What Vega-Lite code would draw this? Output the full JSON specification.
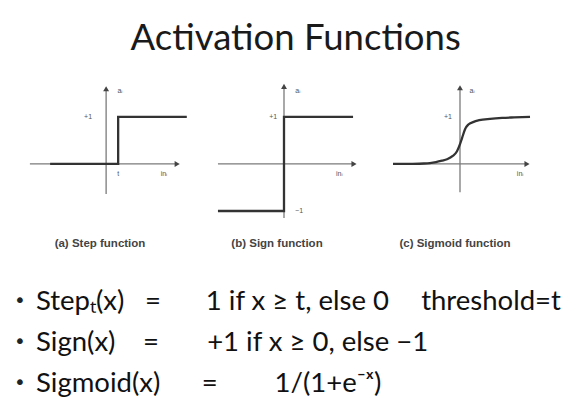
{
  "$schema": "https://vega.github.io/schema/vega-lite/v6.json",
  "background": "white",
  "padding": {"left": 14, "top": 21, "right": 5, "bottom": 0},
  "title": {
    "text": "Activation Functions",
    "font": "Lato",
    "fontSize": 36.5,
    "fontWeight": "normal",
    "color": "#1a1a1a",
    "anchor": "middle",
    "dx": 8,
    "offset": 26
  },
  "datasets": {
    "curves": [
      {"panel": "step", "i": 1, "x": -4.65, "y": 0},
      {"panel": "step", "i": 2, "x": 1, "y": 0},
      {"panel": "step", "i": 3, "x": 1, "y": 1},
      {"panel": "step", "i": 4, "x": 6.7, "y": 1},
      {"panel": "sign", "i": 1, "x": -5.49, "y": -1},
      {"panel": "sign", "i": 2, "x": 0, "y": -1},
      {"panel": "sign", "i": 3, "x": 0, "y": 1},
      {"panel": "sign", "i": 4, "x": 5.74, "y": 1},
      {"panel": "sigmoid", "i": 1, "x": -5.57, "y": 0.0},
      {"panel": "sigmoid", "i": 2, "x": -4, "y": 0.003},
      {"panel": "sigmoid", "i": 3, "x": -3, "y": 0.01},
      {"panel": "sigmoid", "i": 4, "x": -2.5, "y": 0.02},
      {"panel": "sigmoid", "i": 5, "x": -2, "y": 0.04},
      {"panel": "sigmoid", "i": 6, "x": -1.5, "y": 0.07},
      {"panel": "sigmoid", "i": 7, "x": -1.08, "y": 0.1},
      {"panel": "sigmoid", "i": 8, "x": -0.6, "y": 0.17},
      {"panel": "sigmoid", "i": 9, "x": -0.25, "y": 0.27},
      {"panel": "sigmoid", "i": 10, "x": 0, "y": 0.42},
      {"panel": "sigmoid", "i": 11, "x": 0.17, "y": 0.55},
      {"panel": "sigmoid", "i": 12, "x": 0.42, "y": 0.74},
      {"panel": "sigmoid", "i": 13, "x": 0.7, "y": 0.84},
      {"panel": "sigmoid", "i": 14, "x": 1.08, "y": 0.89},
      {"panel": "sigmoid", "i": 15, "x": 1.6, "y": 0.93},
      {"panel": "sigmoid", "i": 16, "x": 2.5, "y": 0.96},
      {"panel": "sigmoid", "i": 17, "x": 3.5, "y": 0.98},
      {"panel": "sigmoid", "i": 18, "x": 4.5, "y": 0.99},
      {"panel": "sigmoid", "i": 19, "x": 5.82, "y": 1.0}
    ],
    "axes": [
      {"panel": "step", "x": -6.33, "x2": 5.9, "y": 0, "y2": 0},
      {"panel": "step", "x": 0, "x2": 0, "y": -0.64, "y2": 1.6},
      {"panel": "sign", "x": -5.49, "x2": 5.82, "y": 0, "y2": 0},
      {"panel": "sign", "x": 0, "x2": 0, "y": -1.15, "y2": 1.65},
      {"panel": "sigmoid", "x": -5.57, "x2": 5.57, "y": 0, "y2": 0},
      {"panel": "sigmoid", "x": 0, "x2": 0, "y": -0.6, "y2": 1.62}
    ],
    "arrows": [
      {"panel": "step", "dir": "x", "x": 5.9, "y": 0},
      {"panel": "step", "dir": "y", "x": 0, "y": 1.6},
      {"panel": "sign", "dir": "x", "x": 5.82, "y": 0},
      {"panel": "sign", "dir": "y", "x": 0, "y": 1.65},
      {"panel": "sigmoid", "dir": "x", "x": 5.57, "y": 0},
      {"panel": "sigmoid", "dir": "y", "x": 0, "y": 1.62}
    ],
    "labels": [
      {"panel": "step", "label": "+1", "x": -1.5, "y": 1},
      {"panel": "step", "label": "t", "x": 1, "y": -0.22},
      {"panel": "step", "label": "inᵢ", "x": 4.8, "y": -0.22},
      {"panel": "step", "label": "aᵢ", "x": 1.15, "y": 1.55},
      {"panel": "sign", "label": "+1", "x": -0.9, "y": 1},
      {"panel": "sign", "label": "−1", "x": 1.25, "y": -1},
      {"panel": "sign", "label": "inᵢ", "x": 4.6, "y": -0.22},
      {"panel": "sign", "label": "aᵢ", "x": 1.15, "y": 1.55},
      {"panel": "sigmoid", "label": "+1", "x": -1.0, "y": 1},
      {"panel": "sigmoid", "label": "inᵢ", "x": 5.0, "y": -0.22},
      {"panel": "sigmoid", "label": "aᵢ", "x": 1.0, "y": 1.55}
    ],
    "bullets": [
      {"line": 1, "text": "Stepₜ(x)\u2002\u2005=\u2003\u2002 \u20091 if x ≥ t, else 0\u2003\u2006 threshold=t"},
      {"line": 2, "text": "Sign(x)\u2003\u2005=\u2003\u2002\u2005 +1 if x ≥ 0, else −1"},
      {"line": 3, "text": "Sigmoid(x)\u2003\u2002 =\u2003\u2003\u2005\u200a 1/(1+e⁻ˣ)"}
    ]
  },
  "vconcat": [
    {
      "bounds": "flush",
      "hconcat": [
        {
          "width": 174,
          "height": 135,
          "title": {"text": "(a) Step function", "orient": "bottom", "anchor": "middle", "font": "Liberation Sans", "fontSize": 11.5, "fontWeight": "bold", "color": "#444", "offset": 19, "dx": -1},
          "encoding": {
            "x": {"field": "x", "type": "quantitative", "scale": {"domain": [-7.65, 6.8], "nice": false, "zero": false}, "axis": null},
            "y": {"field": "y", "type": "quantitative", "scale": {"domain": [-1.17, 1.7], "nice": false, "zero": false}, "axis": null}
          },
          "layer": [
            {"data": {"name": "axes"}, "transform": [{"filter": "datum.panel == 'step'"}], "mark": {"type": "rule", "color": "#7a7a7a", "strokeWidth": 1.3}, "encoding": {"x2": {"field": "x2"}, "y2": {"field": "y2"}}},
            {"data": {"name": "arrows"}, "transform": [{"filter": "datum.panel == 'step'"}], "mark": {"type": "point", "filled": true, "color": "#444", "size": 35, "opacity": 1}, "encoding": {"shape": {"field": "dir", "type": "nominal", "scale": {"domain": ["x", "y"], "range": ["triangle-right", "triangle-up"]}, "legend": null}}},
            {"data": {"name": "curves"}, "transform": [{"filter": "datum.panel == 'step'"}], "mark": {"type": "line", "color": "#333", "strokeWidth": 2.3}, "encoding": {"order": {"field": "i", "type": "quantitative"}}},
            {"data": {"name": "labels"}, "transform": [{"filter": "datum.panel == 'step'"}], "mark": {"type": "text", "font": "Liberation Sans", "fontSize": 7, "color": "#555", "align": "center", "baseline": "middle"}, "encoding": {"text": {"field": "label"}}}
          ]
        },
        {
          "width": 160,
          "height": 135,
          "title": {"text": "(b) Sign function", "orient": "bottom", "anchor": "middle", "font": "Liberation Sans", "fontSize": 11.5, "fontWeight": "bold", "color": "#444", "offset": 19, "dx": -7},
          "encoding": {
            "x": {"field": "x", "type": "quantitative", "scale": {"domain": [-6.65, 6.65], "nice": false, "zero": false}, "axis": null},
            "y": {"field": "y", "type": "quantitative", "scale": {"domain": [-1.17, 1.7], "nice": false, "zero": false}, "axis": null}
          },
          "layer": [
            {"data": {"name": "axes"}, "transform": [{"filter": "datum.panel == 'sign'"}], "mark": {"type": "rule", "color": "#7a7a7a", "strokeWidth": 1.3}, "encoding": {"x2": {"field": "x2"}, "y2": {"field": "y2"}}},
            {"data": {"name": "arrows"}, "transform": [{"filter": "datum.panel == 'sign'"}], "mark": {"type": "point", "filled": true, "color": "#444", "size": 35, "opacity": 1}, "encoding": {"shape": {"field": "dir", "type": "nominal", "scale": {"domain": ["x", "y"], "range": ["triangle-right", "triangle-up"]}, "legend": null}}},
            {"data": {"name": "curves"}, "transform": [{"filter": "datum.panel == 'sign'"}], "mark": {"type": "line", "color": "#333", "strokeWidth": 2.3}, "encoding": {"order": {"field": "i", "type": "quantitative"}}},
            {"data": {"name": "labels"}, "transform": [{"filter": "datum.panel == 'sign'"}], "mark": {"type": "text", "font": "Liberation Sans", "fontSize": 7, "color": "#555", "align": "center", "baseline": "middle"}, "encoding": {"text": {"field": "label"}}}
          ]
        },
        {
          "width": 160,
          "height": 135,
          "title": {"text": "(c) Sigmoid function", "orient": "bottom", "anchor": "middle", "font": "Liberation Sans", "fontSize": 11.5, "fontWeight": "bold", "color": "#444", "offset": 19, "dx": -5},
          "encoding": {
            "x": {"field": "x", "type": "quantitative", "scale": {"domain": [-6.65, 6.65], "nice": false, "zero": false}, "axis": null},
            "y": {"field": "y", "type": "quantitative", "scale": {"domain": [-1.17, 1.7], "nice": false, "zero": false}, "axis": null}
          },
          "layer": [
            {"data": {"name": "axes"}, "transform": [{"filter": "datum.panel == 'sigmoid'"}], "mark": {"type": "rule", "color": "#7a7a7a", "strokeWidth": 1.3}, "encoding": {"x2": {"field": "x2"}, "y2": {"field": "y2"}}},
            {"data": {"name": "arrows"}, "transform": [{"filter": "datum.panel == 'sigmoid'"}], "mark": {"type": "point", "filled": true, "color": "#444", "size": 35, "opacity": 1}, "encoding": {"shape": {"field": "dir", "type": "nominal", "scale": {"domain": ["x", "y"], "range": ["triangle-right", "triangle-up"]}, "legend": null}}},
            {"data": {"name": "curves"}, "transform": [{"filter": "datum.panel == 'sigmoid'"}], "mark": {"type": "line", "color": "#333", "strokeWidth": 2.3, "interpolate": "monotone"}, "encoding": {"order": {"field": "i", "type": "quantitative"}}},
            {"data": {"name": "labels"}, "transform": [{"filter": "datum.panel == 'sigmoid'"}], "mark": {"type": "text", "font": "Liberation Sans", "fontSize": 7, "color": "#555", "align": "center", "baseline": "middle"}, "encoding": {"text": {"field": "label"}}}
          ]
        }
      ],
      "spacing": 16
    },
    {
      "width": 540,
      "height": 123,
      "data": {"name": "bullets"},
      "encoding": {
        "y": {"field": "line", "type": "ordinal", "axis": null}
      },
      "layer": [
        {"mark": {"type": "text", "align": "left", "baseline": "middle", "font": "DejaVu Sans", "fontSize": 20, "color": "#222", "dx": 0, "dy": -1}, "encoding": {"x": {"value": 0}, "text": {"value": "•"}}},
        {"mark": {"type": "text", "align": "left", "baseline": "middle", "font": "Lato", "fontSize": 27.5, "color": "#111", "dx": 22}, "encoding": {"x": {"value": 0}, "text": {"field": "text"}}}
      ]
    }
  ],
  "spacing": 31,
  "config": {"view": {"stroke": null}}
}
